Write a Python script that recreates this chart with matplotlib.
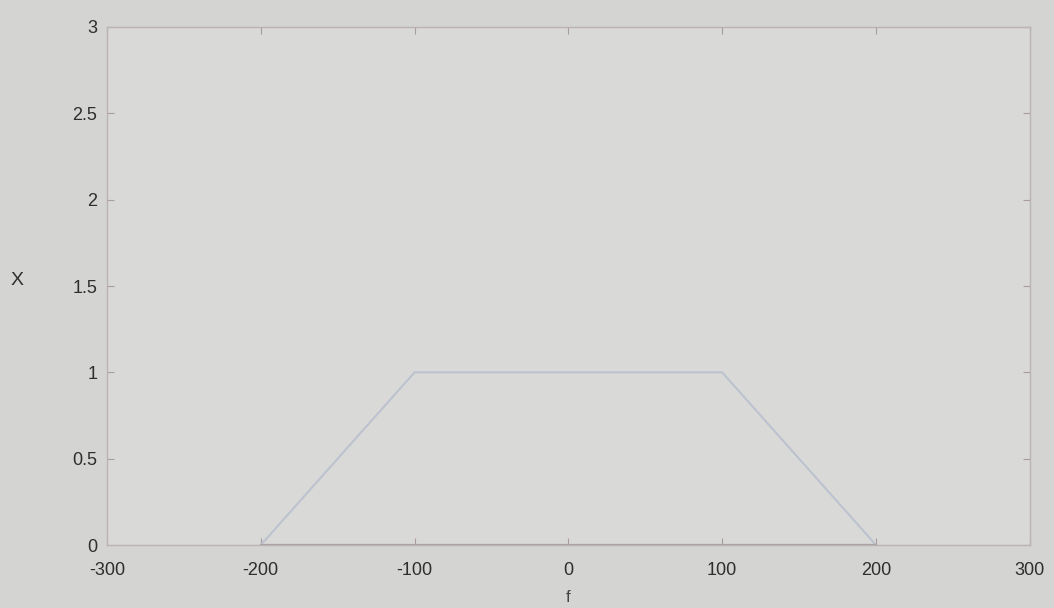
import matplotlib.pyplot as plt

# trapezoid spectrum X(f)
f = [-200, -100, 100, 200]
X = [0, 1, 1, 0]

xticks = [-300, -200, -100, 0, 100, 200, 300]
yticks = [0, 0.5, 1, 1.5, 2, 2.5, 3]

plt.rcParams['font.family'] = ['Liberation Sans', 'DejaVu Sans']

fig = plt.figure(figsize=(10.54, 6.08), dpi=100, facecolor='#d4d4d2')
ax = fig.add_axes([0.1015, 0.1036, 0.8755, 0.852])
ax.set_facecolor('#d9d9d7')

ax.plot(f, X, color='#bcc2d0', linewidth=1.5)
ax.plot([f[0], f[-1]], [0, 0], color='#aaa2a2', linewidth=1.6)

ax.set_xlim(-300, 300)
ax.set_ylim(0, 3)
ax.set_xticks(xticks)
ax.set_yticks(yticks)
ax.set_xticklabels([str(v) for v in xticks])
ax.set_yticklabels(['0', '0.5', '1', '1.5', '2', '2.5', '3'])

for s in ax.spines.values():
    s.set_color('#bab4b4')
    s.set_linewidth(1.0)
ax.tick_params(direction='in', length=5, color='#a89c9c', labelsize=13,
               labelcolor='#2e2e2e', top=True, right=True)
ax.tick_params(axis='y', pad=7)
ax.tick_params(axis='x', pad=12)

ax.set_xlabel('f', fontsize=12, color='#444444', labelpad=8)
ax.set_ylabel('X', fontsize=14, color='#2e2e2e', rotation=0)
ax.yaxis.set_label_coords(-0.097, 0.495)

fig.savefig('out.png', dpi=100, facecolor=fig.get_facecolor())
